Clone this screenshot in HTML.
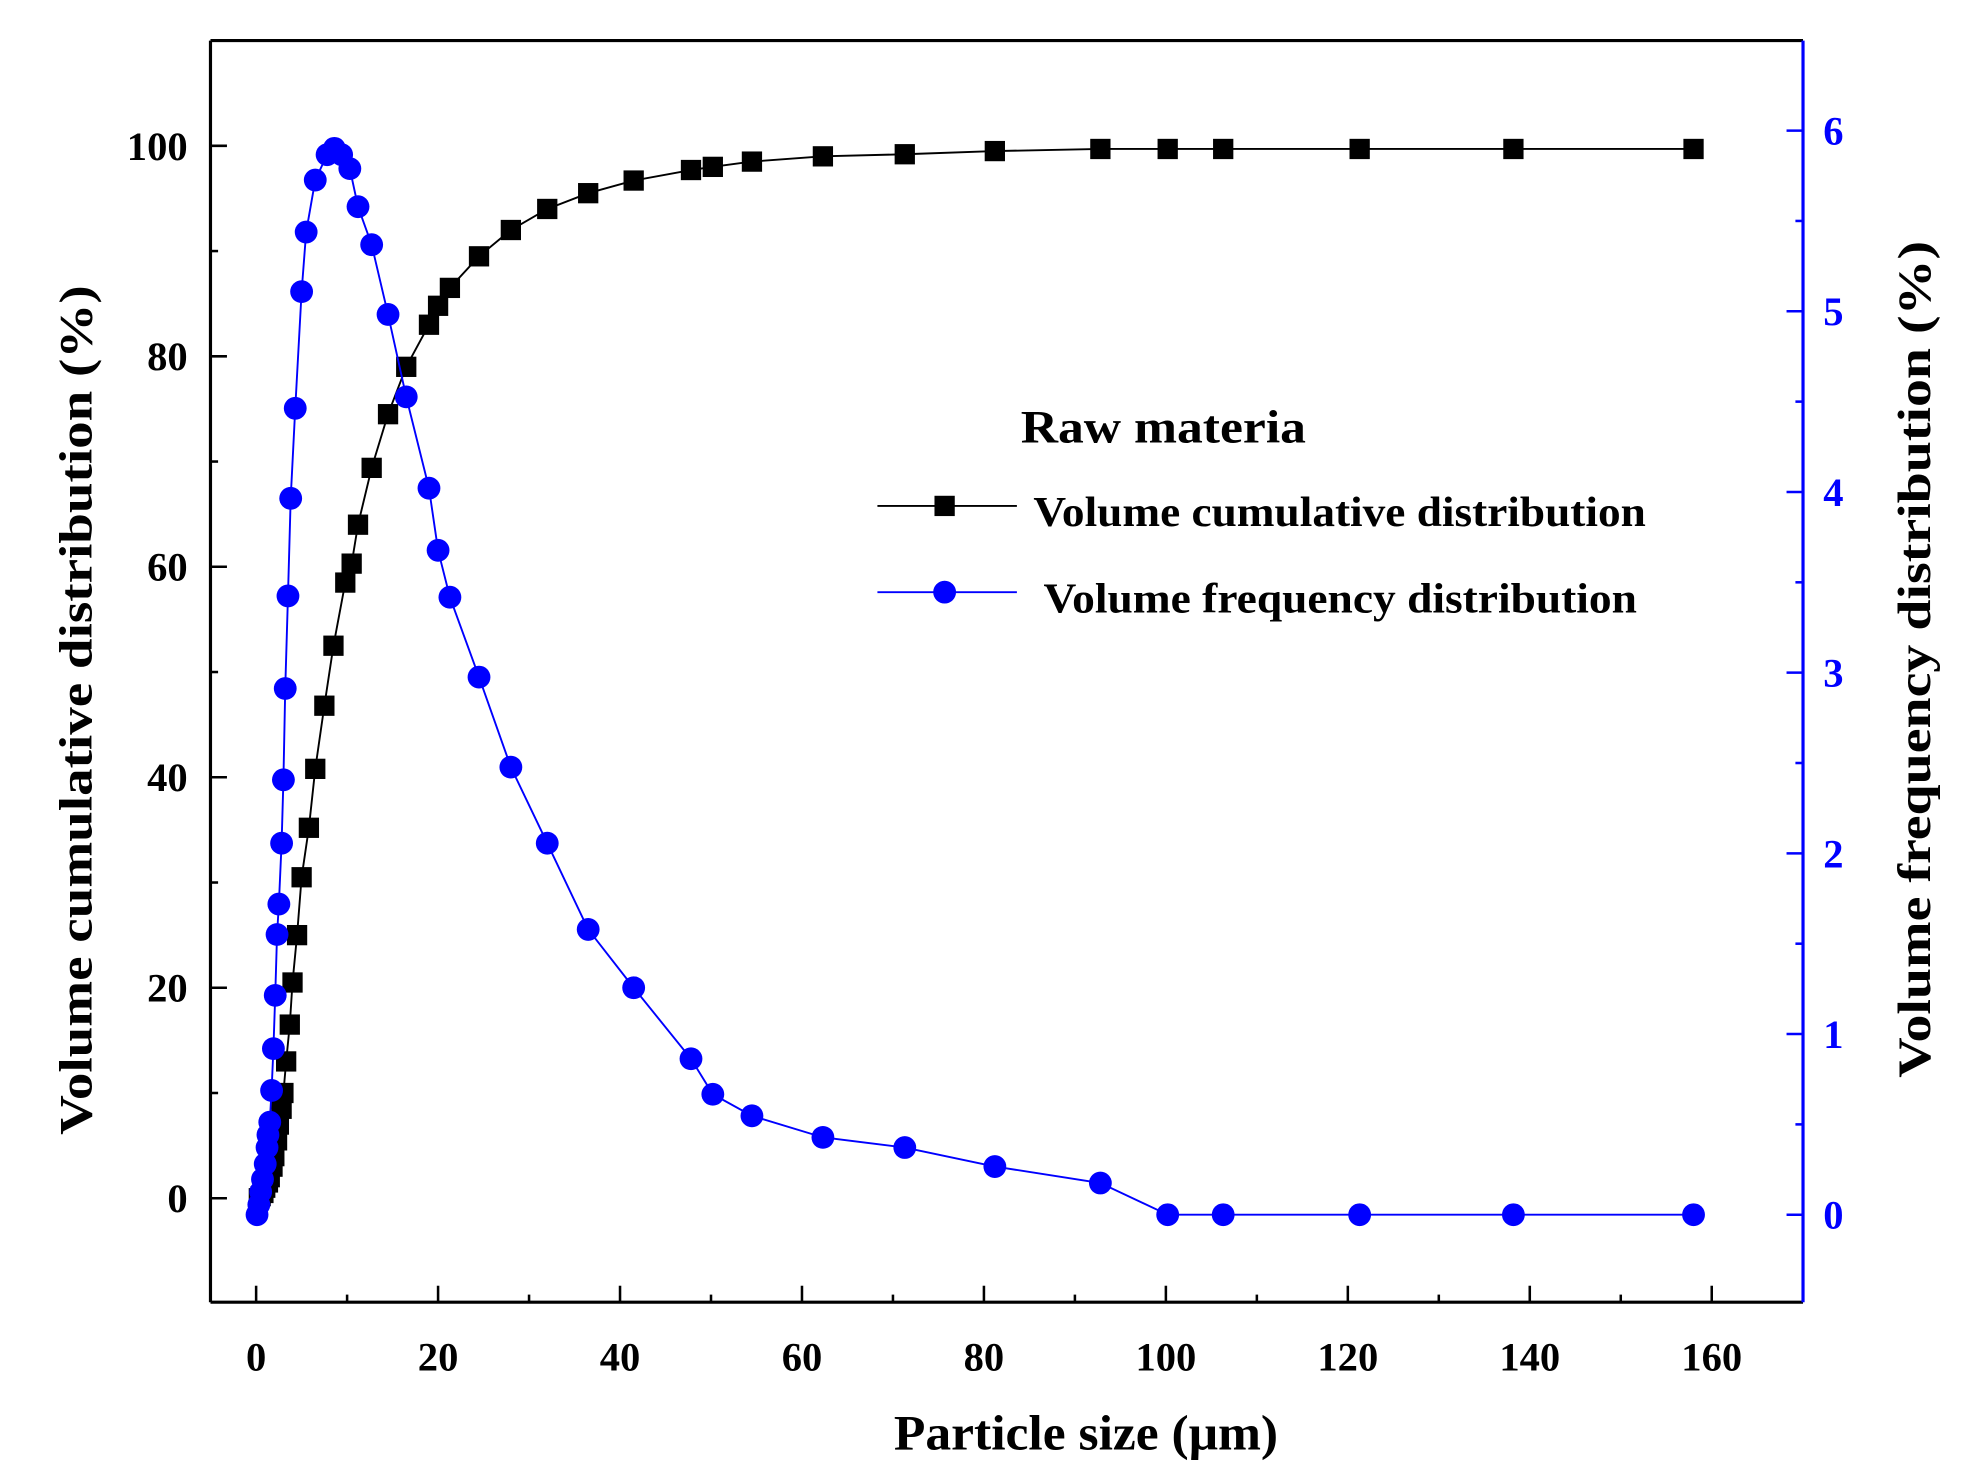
<!DOCTYPE html>
<html><head><meta charset="utf-8"><style>
html,body{margin:0;padding:0;background:#fff;}
svg{display:block;}
text{font-family:"Liberation Serif",serif;font-weight:bold;}
</style></head><body>
<svg id="s" width="1978" height="1481" viewBox="0 0 1560 1168" preserveAspectRatio="none" xmlns="http://www.w3.org/2000/svg">
<rect width="1560" height="1168" fill="#fff"/>
<g id="axes"></g>
<g id="data"></g>
<!-- legend -->
<text x="805" y="349" font-size="37" textLength="225" lengthAdjust="spacingAndGlyphs">Raw materia</text>
<line x1="692" y1="399" x2="802" y2="399" stroke="#000" stroke-width="1.5"/>
<rect x="737" y="391" width="16" height="16" fill="#000"/>
<text x="815" y="415" font-size="33" textLength="483" lengthAdjust="spacingAndGlyphs">Volume cumulative distribution</text>
<line x1="692" y1="467" x2="802" y2="467" stroke="#00f" stroke-width="1.5"/>
<circle cx="745" cy="467" r="9" fill="#00f"/>
<text x="823" y="483" font-size="33" textLength="468" lengthAdjust="spacingAndGlyphs">Volume frequency distribution</text>
<!-- axis titles -->
<text x="705" y="1143" font-size="39" textLength="303" lengthAdjust="spacingAndGlyphs">Particle size (μm)</text>
<text transform="translate(72,895) rotate(-90)" font-size="37" textLength="670" lengthAdjust="spacingAndGlyphs">Volume cumulative distribution (%)</text>
<text transform="translate(1522,850) rotate(-90)" font-size="37" textLength="660" lengthAdjust="spacingAndGlyphs">Volume frequency distribution (%)</text>
</svg>
<script>
var NS="http://www.w3.org/2000/svg";
function el(p,t,a,txt){var e=document.createElementNS(NS,t);for(var k in a)e.setAttribute(k,a[k]);if(txt!=null)e.textContent=txt;p.appendChild(e);return e;}
var ax=document.getElementById('axes'),dg=document.getElementById('data');
var L=166,T=32,R=1422,B=1027;
function X(v){return 202+7.175*v;}
function YL(v){return 945-8.3*v;}
function YR(v){return 958-142.5*v;}
el(ax,'line',{x1:L,y1:T,x2:R,y2:T,stroke:'#000','stroke-width':2.5});
el(ax,'line',{x1:L,y1:T,x2:L,y2:B,stroke:'#000','stroke-width':2.5});
el(ax,'line',{x1:L,y1:B,x2:R,y2:B,stroke:'#000','stroke-width':2.5});
el(ax,'line',{x1:R,y1:T,x2:R,y2:B,stroke:'#00f','stroke-width':2.5});
for(var v=0;v<=160;v+=10){var x=X(v),maj=v%20==0;
 el(ax,'line',{x1:x,y1:B,x2:x,y2:B-(maj?13:6),stroke:'#000','stroke-width':2});
 if(maj)el(ax,'text',{x:x,y:1081,'font-size':32,'text-anchor':'middle'},v);}
for(var v=-10;v<=110;v+=10){var y=YL(v);if(y<T||y>B)continue;var maj=v%20==0;
 el(ax,'line',{x1:L,y1:y,x2:L+(maj?13:6),y2:y,stroke:'#000','stroke-width':2});
 if(maj&&v>=0&&v<=100)el(ax,'text',{x:148,y:y+11,'font-size':32,'text-anchor':'end'},v);}
for(var i=-1;i<=13;i++){var v=i*0.5,y=YR(v);if(y<T||y>B)continue;var maj=i%2==0;
 el(ax,'line',{x1:R,y1:y,x2:R-(maj?13:6),y2:y,stroke:'#00f','stroke-width':2});
 if(maj&&v>=0)el(ax,'text',{x:1438,y:y+11,'font-size':32,fill:'#00f'},v);}
var cum=[[0.3,0],[0.5,0.2],[0.8,0.5],[1,1],[1.3,1.5],[1.5,2],[1.8,3],[2,4],[2.3,5.5],[2.5,7],[2.8,8.5],[3,10],[3.3,13],[3.7,16.5],[4,20.5],[4.5,25],[5,30.5],[5.8,35.2],[6.5,40.8],[7.5,46.8],[8.5,52.5],[9.8,58.5],[10.5,60.3],[11.2,64],[12.7,69.4],[14.5,74.5],[16.5,79],[19,83],[20,84.8],[21.3,86.5],[24.5,89.5],[28,92],[32,94],[36.5,95.5],[41.5,96.7],[47.8,97.7],[50.2,98],[54.5,98.5],[62.3,99],[71.3,99.2],[81.2,99.5],[92.8,99.7],[100.2,99.7],[106.3,99.7],[121.3,99.7],[138.2,99.7],[158,99.7]];
var fr=[[0.1,958],[0.3,950],[0.5,940],[0.7,930],[1,918],[1.2,905],[1.3,895],[1.5,885],[1.7,860],[1.9,827],[2.1,785],[2.3,737],[2.5,713],[2.8,665],[3,615],[3.2,543],[3.5,470],[3.8,393],[4.3,322],[5,230],[5.5,183],[6.5,142],[7.8,122],[8.6,117],[9.4,122],[10.3,133],[11.2,163],[12.7,193],[14.5,248],[16.5,313],[19,385],[20,434],[21.3,471],[24.5,534],[28,605],[32,665],[36.5,733],[41.5,779],[47.8,835],[50.2,863],[54.5,880],[62.3,897],[71.3,905],[81.2,920],[92.8,933],[100.2,958],[106.3,958],[121.3,958],[138.2,958],[158,958]];
el(dg,'polyline',{points:cum.map(function(p){return X(p[0])+','+YL(p[1]);}).join(' '),fill:'none',stroke:'#000','stroke-width':1.5});
cum.forEach(function(p){el(dg,'rect',{x:X(p[0])-8,y:YL(p[1])-8,width:16,height:16,fill:'#000'});});
el(dg,'polyline',{points:fr.map(function(p){return X(p[0])+','+p[1];}).join(' '),fill:'none',stroke:'#00f','stroke-width':1.5});
fr.forEach(function(p){el(dg,'circle',{cx:X(p[0]),cy:p[1],r:9,fill:'#00f'});});
</script>
</body></html>
